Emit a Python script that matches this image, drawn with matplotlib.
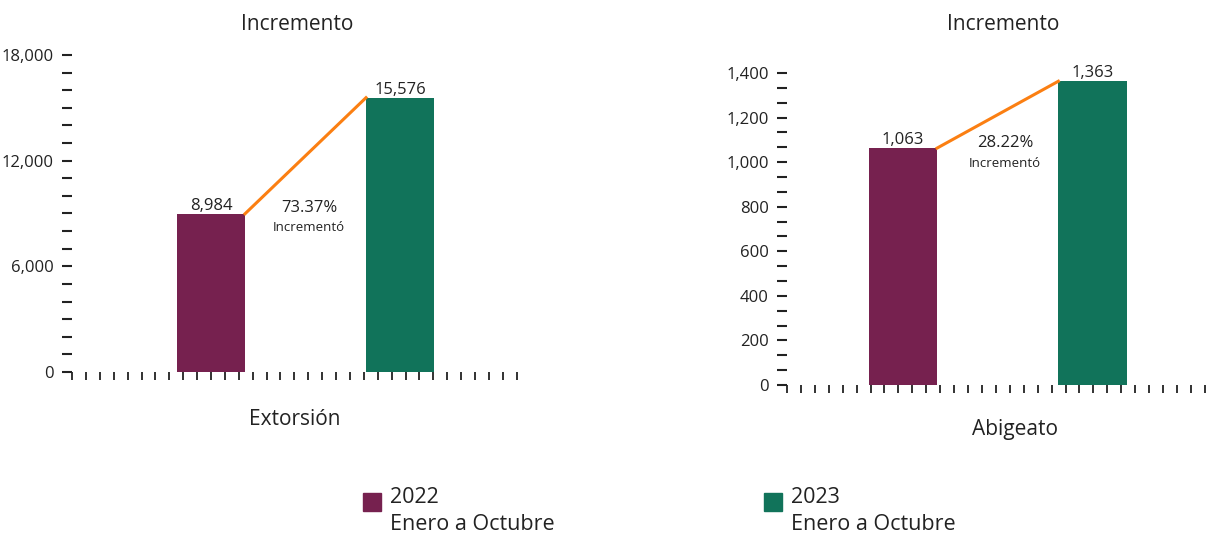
import matplotlib
matplotlib.use("Agg")
import matplotlib.pyplot as plt
import numpy as np
from matplotlib.ticker import MultipleLocator, AutoMinorLocator, FuncFormatter

plt.rcParams['font.family'] = ['Open Sans', 'DejaVu Sans']

# Datos
years = ["2022", "2023"]
periodo = "Enero a Octubre"
extorsion = [8984, 15576]
abigeato = [1063, 1363]

purple = "#76214f"
green = "#11735a"
orange = "#fb7f12"
text_col = "#222222"

fig = plt.figure(figsize=(12.27, 5.34), dpi=100)


def panel(rect, values, xlim, ylim, ymajor, yminor_n, txt_pos):
    ax = fig.add_axes(rect)
    x = np.arange(len(values))
    ax.bar(x, values, width=0.36, color=[purple, green], zorder=2)
    # linea de incremento entre las esquinas superiores de las barras
    ax.plot([x[0] + 0.18, x[1] - 0.18], values, color=orange, lw=2.2, zorder=3)
    for xi, v in zip(x, values):
        ax.text(xi, v, f"{v:,}", ha="center", va="bottom", fontsize=12,
                color=text_col)
    pct = (values[1] / values[0] - 1) * 100
    ax.text(txt_pos[0], txt_pos[1], f"{pct:.2f}%", ha="center", va="center",
            fontsize=12, color=text_col)
    ax.text(txt_pos[0], txt_pos[2], "Incrementó", ha="center", va="center",
            fontsize=9.5, color=text_col)

    ax.set_xlim(*xlim)
    ax.set_ylim(*ylim)
    for s in ax.spines.values():
        s.set_visible(False)
    ax.set_xticks(np.arange(xlim[0], xlim[1] + 0.01, 0.0735))
    ax.set_xticklabels([])
    ax.tick_params(axis="x", length=6, width=1.3, color=text_col, direction="out")
    ax.yaxis.set_major_locator(MultipleLocator(ymajor))
    ax.yaxis.set_minor_locator(AutoMinorLocator(yminor_n))
    ax.yaxis.set_major_formatter(FuncFormatter(lambda v, p: f"{v:,.0f}"))
    ax.tick_params(axis="y", which="both", length=7, width=1.5, color=text_col,
                   pad=6, labelsize=12, labelcolor=text_col)
    return ax


panel([0.0587, 0.3034, 0.3627, 0.5936], extorsion, (-0.735, 1.619),
      (0, 18000), 6000, 6, (0.52, 9300, 8200))
panel([0.6414, 0.279, 0.3447, 0.5843], abigeato, (-0.612, 1.62),
      (0, 1400), 200, 3, (0.54, 1085, 995))

# Titulos y nombres de delito
fig.text(0.242, 0.955, "Incremento", ha="center", va="center", fontsize=15,
         color=text_col)
fig.text(0.818, 0.955, "Incremento", ha="center", va="center", fontsize=15,
         color=text_col)
fig.text(0.240, 0.2135, "Extorsión", ha="center", va="center", fontsize=15,
         color=text_col)
fig.text(0.827, 0.195, "Abigeato", ha="center", va="center", fontsize=15,
         color=text_col)

# Leyenda
for xs, col, yr in [(0.296, purple, years[0]), (0.623, green, years[1])]:
    fig.patches.append(plt.Rectangle((xs, 0.043), 0.0147, 0.034, color=col,
                                     transform=fig.transFigure, figure=fig))
    fig.text(xs + 0.022, 0.068, yr, fontsize=15.5, color=text_col, va="center")
    fig.text(xs + 0.022, 0.018, periodo, fontsize=15.5, color=text_col, va="center")

fig.savefig("out.png", dpi=100, facecolor="white")
